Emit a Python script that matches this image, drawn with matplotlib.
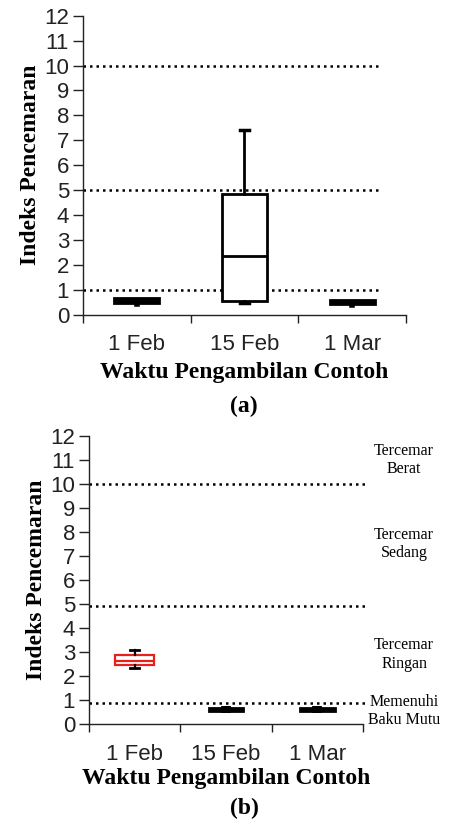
import matplotlib
matplotlib.use("Agg")
import matplotlib.pyplot as plt

categories = ["1 Feb", "15 Feb", "1 Mar"]
yticks = list(range(0, 13))

# Panel (a) box statistics
a_whislo = [0.42, 0.45, 0.38]
a_q1 = [0.48, 0.55, 0.42]
a_med = [0.58, 2.35, 0.50]
a_q3 = [0.68, 4.85, 0.60]
a_whishi = [0.68, 7.40, 0.60]
a_limits = [1, 5, 10]

# Panel (b) box statistics
b_whislo = [2.33, 0.47, 0.48]
b_q1 = [2.45, 0.55, 0.55]
b_med = [2.65, 0.62, 0.62]
b_q3 = [2.88, 0.68, 0.68]
b_whishi = [3.09, 0.77, 0.76]
b_limits = [0.9, 4.9, 10]
b_zone_labels = ["Tercemar\nBerat", "Tercemar\nSedang", "Tercemar\nRingan", "Memenuhi\nBaku Mutu"]
b_zone_y = [11.0, 7.5, 2.9, 0.55]

W, H = 452, 821
fig = plt.figure(figsize=(W / 100, H / 100), dpi=100)

sans = ["Liberation Sans", "DejaVu Sans"]
serif = ["Liberation Serif", "DejaVu Serif"]


def px_axes(left, right, top, bottom):
    return fig.add_axes([left / W, 1 - bottom / H, (right - left) / W, (bottom - top) / H])


def style(ax):
    ax.set_ylim(0, 12)
    ax.set_xlim(-0.5, 2.5)
    ax.spines["top"].set_visible(False)
    ax.spines["right"].set_visible(False)
    for s in ("left", "bottom"):
        ax.spines[s].set_linewidth(1.0)
        ax.spines[s].set_color("#222222")
    ax.set_yticks(yticks)
    ax.set_yticklabels([str(t) for t in yticks], fontfamily=sans, fontsize=16, color="#222222")
    ax.set_xticks([-0.5, 0.5, 1.5, 2.5])
    ax.set_xticklabels([])
    ax.set_xticks([0, 1, 2], minor=True)
    ax.set_xticklabels(categories, minor=True, fontfamily=sans, fontsize=16, color="#222222")
    ax.tick_params(axis="x", which="minor", length=0, pad=14)
    ax.tick_params(axis="x", which="major", length=6, width=1, direction="out", color="#222222")
    ax.tick_params(axis="y", length=7, width=1, direction="out", pad=3, color="#222222")
    ax.set_ylabel("Indeks Pencemaran", fontfamily=serif, fontweight="bold", fontsize=17, labelpad=2)


def stats(lo, q1, med, q3, hi):
    return [dict(whislo=lo[i], q1=q1[i], med=med[i], q3=q3[i], whishi=hi[i], fliers=[])
            for i in range(len(lo))]


# ---------- Panel (a) ----------
ax1 = px_axes(83, 406, 15.7, 314.7)
style(ax1)
for y in a_limits:
    ax1.plot([-0.5, 2.24], [y, y], ls=(0, (1, 1.6)), color="black", lw=1.8, zorder=1)
sa = stats(a_whislo, a_q1, a_med, a_q3, a_whishi)
for i, st in enumerate(sa):
    small = i != 1
    ax1.bxp([st], positions=[i], widths=0.42, showfliers=False, patch_artist=True,
            capwidths=0.08, manage_ticks=False,
            boxprops=dict(facecolor="black" if small else "white", edgecolor="black", linewidth=2),
            medianprops=dict(color="black", linewidth=2),
            whiskerprops=dict(color="black", linewidth=2 if not small else 4),
            capprops=dict(color="black", linewidth=2.5 if not small else 0))
ax1.set_xlim(-0.5, 2.5)
ax1.set_xlabel("Waktu Pengambilan Contoh", fontfamily=serif, fontweight="bold", fontsize=17, labelpad=5)
fig.text(244 / W, 1 - 406 / H, "(a)", fontfamily=serif, fontweight="bold", fontsize=17,
         ha="center", va="center")

# ---------- Panel (b) ----------
ax2 = px_axes(89, 363, 435.7, 724.3)
style(ax2)
for y in b_limits:
    ax2.plot([-0.5, 2.53], [y, y], ls=(0, (1, 1.6)), color="black", lw=1.8, zorder=1, clip_on=False)
sb = stats(b_whislo, b_q1, b_med, b_q3, b_whishi)
for i, st in enumerate(sb):
    if i == 0:
        ax2.bxp([st], positions=[i], widths=0.42, showfliers=False, patch_artist=True,
                capwidths=0.1, manage_ticks=False,
                boxprops=dict(facecolor="white", edgecolor="#e8201c", linewidth=1.6),
                medianprops=dict(color="#e8201c", linewidth=1.6),
                whiskerprops=dict(color="black", linewidth=1.6),
                capprops=dict(color="black", linewidth=2))
    else:
        ax2.bxp([st], positions=[i], widths=0.38, showfliers=False, patch_artist=True,
                capwidths=0.08, manage_ticks=False,
                boxprops=dict(facecolor="black", edgecolor="black", linewidth=2),
                medianprops=dict(color="black", linewidth=2),
                whiskerprops=dict(color="black", linewidth=7, solid_capstyle="butt"),
                capprops=dict(color="black", linewidth=0))
ax2.set_xlim(-0.5, 2.5)
ax2.set_xlabel("Waktu Pengambilan Contoh", fontfamily=serif, fontweight="bold", fontsize=17, labelpad=2)
for lab, y in zip(b_zone_labels, b_zone_y):
    ax2.text(2.95, y, lab, fontfamily=serif, fontsize=11.5, ha="center", va="center",
             linespacing=1.2, clip_on=False)
fig.text(244 / W, 1 - 808 / H, "(b)", fontfamily=serif, fontweight="bold", fontsize=17,
         ha="center", va="center")

fig.savefig("out.png", dpi=100)
